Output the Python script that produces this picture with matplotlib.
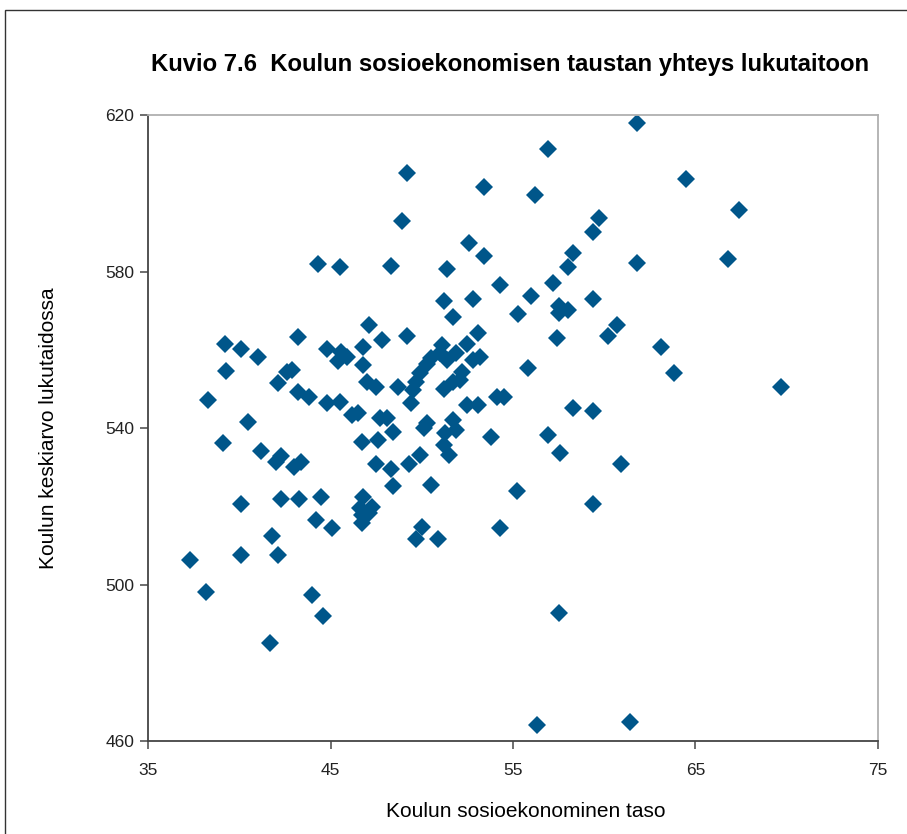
import matplotlib
matplotlib.use('Agg')
import matplotlib.pyplot as plt
from matplotlib.patches import Rectangle

plt.rcParams['font.family'] = ['Liberation Sans', 'DejaVu Sans']

# school socio-economic index vs. school mean reading score
ses = [
    61.8, 56.9, 49.2, 64.5, 53.4, 56.2, 67.4, 59.7, 48.9, 59.4,
    52.6, 58.3, 53.4, 66.8, 61.8, 44.3, 45.5, 48.3, 51.4, 58.0,
    57.2, 54.3, 56.0, 51.2, 52.8, 59.4, 55.3, 51.7, 57.5, 58.0,
    57.5, 60.7, 60.2, 57.4, 63.1, 63.8, 69.7, 49.2, 47.8, 47.1,
    53.1, 52.5, 53.2, 52.8, 51.1, 51.0, 51.9, 51.4, 50.5, 50.3,
    49.9, 49.7, 49.5, 49.4, 51.2, 51.7, 52.1, 52.2, 55.8, 54.1,
    54.5, 52.5, 53.1, 50.3, 51.7, 51.9, 51.3, 51.2, 51.5, 49.9,
    53.8, 44.8, 45.6, 45.9, 45.4, 46.8, 46.8, 47.0, 47.5, 48.7,
    44.8, 45.5, 46.2, 46.5, 47.7, 48.1, 50.1, 46.7, 47.6, 48.4,
    47.5, 39.2, 43.2, 40.1, 41.0, 39.3, 42.6, 42.9, 42.1, 43.2,
    43.8, 38.3, 40.5, 39.1, 41.2, 42.0, 42.3, 43.0, 43.4, 48.3,
    48.4, 40.1, 42.3, 43.3, 44.5, 44.2, 45.1, 46.8, 47.3, 46.6,
    46.7, 46.7, 47.1, 41.8, 40.1, 42.1, 37.3, 38.2, 44.0, 44.6,
    41.7, 49.3, 50.5, 56.9, 57.6, 60.9, 55.2, 59.4, 50.0, 49.7,
    50.9, 54.3, 57.5, 56.3, 61.4, 58.3, 59.4,
]
score = [
    618.0, 611.3, 605.2, 603.6, 601.6, 599.6, 595.7, 593.7, 592.9, 590.1,
    587.3, 584.7, 584.0, 583.2, 582.2, 581.9, 581.1, 581.4, 580.6, 581.1,
    577.1, 576.5, 573.7, 572.5, 573.0, 573.0, 569.1, 568.4, 571.2, 570.2,
    569.4, 566.3, 563.5, 563.0, 560.7, 554.1, 550.5, 563.5, 562.5, 566.3,
    564.3, 561.5, 558.1, 557.4, 561.2, 559.2, 559.2, 557.4, 557.9, 556.4,
    554.1, 551.8, 549.7, 546.4, 550.0, 551.8, 552.3, 554.3, 555.3, 548.0,
    548.0, 545.9, 545.9, 541.3, 542.0, 539.5, 538.7, 535.7, 533.1, 533.1,
    537.7, 560.2, 559.4, 558.1, 557.1, 560.7, 556.1, 551.8, 550.5, 550.5,
    546.4, 546.6, 543.3, 543.8, 542.6, 542.6, 540.0, 536.4, 536.9, 539.0,
    530.8, 561.5, 563.3, 560.2, 558.1, 554.6, 554.3, 554.8, 551.5, 549.2,
    548.0, 547.2, 541.5, 536.2, 534.1, 531.3, 532.8, 530.0, 531.3, 529.5,
    525.2, 520.6, 521.8, 521.8, 522.4, 516.5, 514.4, 522.4, 519.8, 519.6,
    517.8, 515.7, 518.3, 512.4, 507.5, 507.5, 506.3, 498.1, 497.3, 491.9,
    485.0, 530.8, 525.4, 538.2, 533.6, 530.8, 523.9, 520.6, 514.7, 511.6,
    511.6, 514.4, 492.7, 464.1, 464.9, 545.1, 544.3,
]

x_ticks = [35, 45, 55, 65, 75]
y_ticks = [460, 500, 540, 580, 620]

fig = plt.figure(figsize=(9.07, 8.34), dpi=100)
ax = fig.add_axes([0.1632, 0.1115, 0.8048, 0.7506])

ax.plot(ses, score, linestyle='none', marker='D', markersize=8.8,
        color='#00568A', markeredgewidth=0)

ax.set_xlim(35, 75)
ax.set_ylim(460, 620)
ax.set_xticks(x_ticks)
ax.set_yticks(y_ticks)
ax.tick_params(direction='out', length=6, width=1.2, color='#555555',
               labelsize=12.5, colors='#222222')
ax.tick_params(axis='x', pad=10)
ax.tick_params(axis='y', pad=4)

for side in ('left', 'bottom'):
    ax.spines[side].set_color('#444444')
    ax.spines[side].set_linewidth(1.3)
for side in ('top', 'right'):
    ax.spines[side].set_color('#B0B0B0')
    ax.spines[side].set_linewidth(1.3)

ax.set_xlabel('Koulun sosioekonominen taso', fontsize=15)
ax.xaxis.set_label_coords(0.518, -0.098)
ax.set_ylabel('Koulun keskiarvo lukutaidossa', fontsize=15, labelpad=34)

fig.text(0.5623, 0.9225, 'Kuvio 7.6  Koulun sosioekonomisen taustan yhteys lukutaitoon',
         ha='center', va='center', fontsize=17.2, fontweight='bold')

# outer frame of the figure box
fig.patches.append(Rectangle((5 / 907, -0.1), 1.2, 1 - 10 / 834 + 0.1,
                             transform=fig.transFigure, fill=False,
                             edgecolor='#333333', linewidth=1.0))

fig.savefig('out.png', dpi=100)
